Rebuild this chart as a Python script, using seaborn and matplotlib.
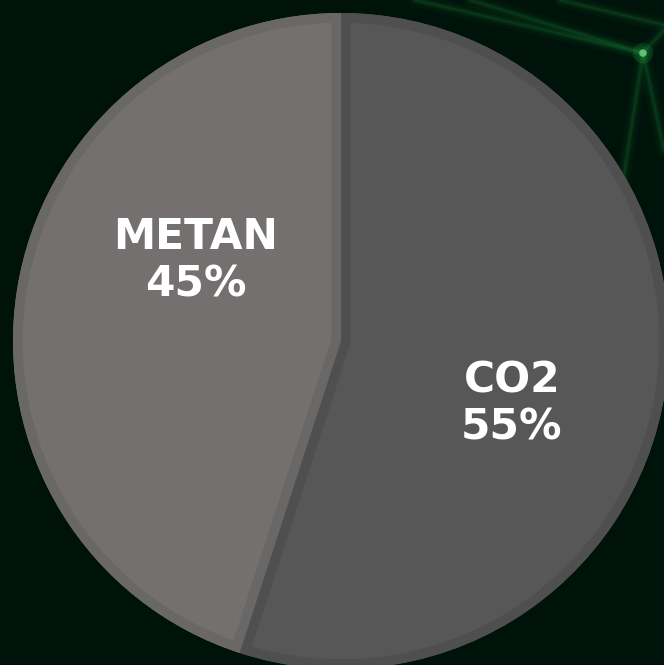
import matplotlib
matplotlib.use("Agg")
import matplotlib.pyplot as plt
from matplotlib.patches import PathPatch
import seaborn as sns

sns.set_theme(style="white")
plt.rcParams['font.family'] = ['DejaVu Sans']

categories = ["CO2", "METAN"]
shares = [55, 45]
slice_colors = ["#575757", "#747070"]
edge_colors = ["#4f4f4f", "#6a6767"]
bg = "#00130a"

fig = plt.figure(figsize=(6.64, 6.65), dpi=100, facecolor=bg)
ax = fig.add_axes([0, 0, 1, 1])
ax.set_facecolor(bg)

# faint decorative background glow lines (top-right)
deco = [((415, 0), (643, 53)), ((470, 0), (643, 53)), ((643, 53), (620, 200)),
        ((643, 53), (664, 30)), ((560, 0), (664, 25)), ((643, 53), (664, 150))]
for (x0, y0), (x1, y1) in deco:
    for lw, a in [(10, 0.04), (5, 0.07), (2, 0.12)]:
        ax.plot([x0, x1], [665 - y0, 665 - y1], color="#2bb84a", lw=lw, alpha=a,
                solid_capstyle="round", zorder=0)
ax.scatter([643], [665 - 53], s=30, color="#8fe8a0", alpha=0.7, zorder=0, edgecolor="none")
ax.scatter([643], [665 - 53], s=220, color="#2bb84a", alpha=0.18, zorder=0, edgecolor="none")

cx, cy, r = 341, 665 - 341, 328
wedges, _ = ax.pie(shares, colors=slice_colors, startangle=90, counterclock=False,
                   center=(cx, cy), radius=r, frame=True,
                   wedgeprops=dict(linewidth=0, zorder=2))
for w, ec in zip(wedges, edge_colors):
    rim = PathPatch(w.get_path(), transform=w.get_transform(), facecolor="none",
                    edgecolor=ec, linewidth=14, zorder=3)
    ax.add_patch(rim)
    rim.set_clip_path(w)

ax.set_xlim(0, 664)
ax.set_ylim(0, 665)
ax.set_aspect("equal")
ax.axis("off")

label_pos = {"CO2": (512, 665 - 404), "METAN": (196, 665 - 261)}
for cat, val in zip(categories, shares):
    x, y = label_pos[cat]
    ax.text(x, y, f"{cat}\n{val}%", ha="center", va="center", color="white",
            fontsize=30.5, fontweight="bold", linespacing=1.18, zorder=5)

fig.savefig("out.png", dpi=100, facecolor=bg)
